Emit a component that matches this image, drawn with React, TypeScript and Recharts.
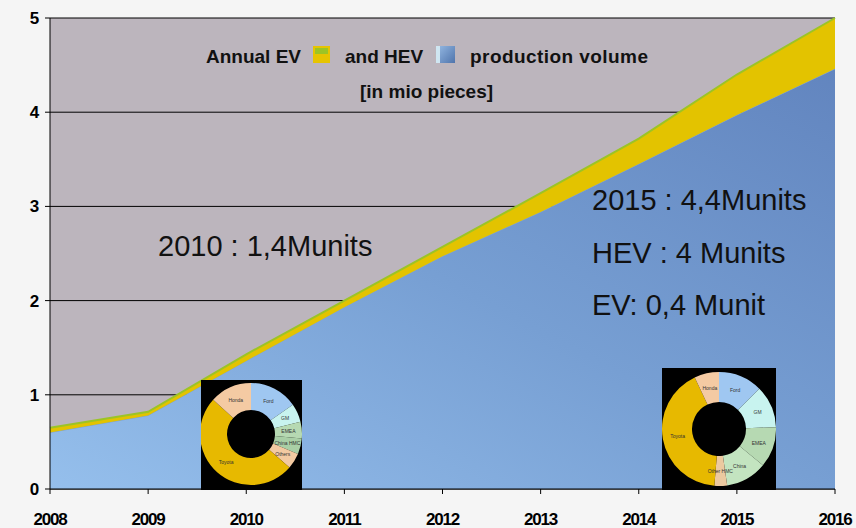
import React from "react";
import { Area, AreaChart, CartesianGrid, Cell, Pie, PieChart, XAxis, YAxis } from "recharts";

// production volume, mio pieces
const years = [2008, 2009, 2010, 2011, 2012, 2013, 2014, 2015, 2016];
const hevVolume = [0.6, 0.78, 1.36, 1.93, 2.47, 2.94, 3.45, 3.97, 4.46];
const evVolume = [0.05, 0.04, 0.07, 0.07, 0.1, 0.2, 0.27, 0.43, 0.54];
const yTicks = [0, 1, 2, 3, 4, 5];

// maker shares in the two donuts, clockwise from 12 o'clock
const makers2010 = ["Ford", "GM", "EMEA", "China HMC", "Others", "Toyota", "Honda"];
const share2010 = [15.3, 5.8, 5.3, 5, 5, 50.3, 13.3];
const makers2015 = ["Ford", "GM", "EMEA", "China", "Other HMC", "Toyota", "Honda"];
const share2015 = [12.5, 12, 11.5, 11.7, 3.6, 41.7, 7];

const makerColor: Record<string, string> = {
  Ford: "#9fc7f1",
  GM: "#c8f3ef",
  EMEA: "#b6d9b2",
  China: "#c3e4c0",
  "China HMC": "#a9cfa6",
  Others: "#f2c9a1",
  "Other HMC": "#ecc9a0",
  Toyota: "#e7b900",
  Honda: "#f4caa3",
};

const data = years.map((y, i) => ({ year: y, hev: hevVolume[i], ev: evVolume[i] }));

const axisFont = "'Liberation Sans', Arial, sans-serif";
const textFont = "'Liberation Sans', Arial, sans-serif";
const RAD = Math.PI / 180;

const donutLabel = (p: any) => {
  const r = (p.innerRadius + p.outerRadius) / 2;
  const x = p.cx + r * Math.cos(-p.midAngle * RAD);
  const y = p.cy + r * Math.sin(-p.midAngle * RAD);
  return (
    <text x={x} y={y} fontSize={5} fontFamily={textFont} textAnchor="middle" dominantBaseline="central" fill="#333">
      {p.payload.maker}
    </text>
  );
};

type DonutProps = {
  makers: string[];
  shares: number[];
  left: number;
  top: number;
  w: number;
  h: number;
  cx: number;
  cy: number;
  inner: number;
  outer: number;
};

const Donut = ({ makers, shares, left, top, w, h, cx, cy, inner, outer }: DonutProps) => {
  const rows = makers.map((m, i) => ({ maker: m, share: shares[i] }));
  return (
    <div style={{ position: "absolute", left, top, width: w, height: h, background: "#000" }}>
      <PieChart width={w} height={h} margin={{ top: 0, right: 0, bottom: 0, left: 0 }}>
        <Pie
          data={rows}
          dataKey="share"
          nameKey="maker"
          cx={cx}
          cy={cy}
          innerRadius={inner}
          outerRadius={outer}
          startAngle={90}
          endAngle={-270}
          stroke="none"
          label={donutLabel}
          labelLine={false}
          isAnimationActive={false}
        >
          {rows.map((r) => (
            <Cell key={r.maker} fill={makerColor[r.maker]} />
          ))}
        </Pie>
      </PieChart>
    </div>
  );
};

const tickStyle = { fill: "#000", fontSize: 17, fontWeight: 700, fontFamily: axisFont, letterSpacing: -1.2 };

export default function App() {
  return (
    <div style={{ position: "absolute", left: 0, top: 0, width: 856, height: 528, background: "#f5f5f5", overflow: "hidden" }}>
      <AreaChart width={856} height={528} data={data} margin={{ top: 18, right: 21, bottom: 0, left: 0 }}>
        <defs>
          <linearGradient id="hevFill" x1="0" y1="1" x2="1" y2="0">
            <stop offset="0%" stopColor="#95bfec" />
            <stop offset="50%" stopColor="#779fd3" />
            <stop offset="100%" stopColor="#6285bf" />
          </linearGradient>
        </defs>
        <CartesianGrid vertical={false} stroke="#000" fill="#bcb5bd" />
        <XAxis
          dataKey="year"
          type="number"
          domain={[2008, 2016]}
          ticks={years}
          height={39}
          axisLine={{ stroke: "#000" }}
          tickLine={{ stroke: "#000" }}
          tickSize={5}
          tickMargin={19}
          tick={tickStyle}
        />
        <YAxis
          type="number"
          domain={[0, 5]}
          ticks={yTicks}
          width={50}
          axisLine={{ stroke: "#000" }}
          tickLine={{ stroke: "#000" }}
          tickSize={5}
          tickMargin={7}
          tick={tickStyle}
        />
        <Area dataKey="hev" stackId="v" type="linear" fill="url(#hevFill)" fillOpacity={1} stroke="#7aa2d6" strokeWidth={1} isAnimationActive={false} />
        <Area dataKey="ev" stackId="v" type="linear" fill="#e3c300" fillOpacity={1} stroke="#9cc425" strokeWidth={2} isAnimationActive={false} />
      </AreaChart>

      <svg width={856} height={528} style={{ position: "absolute", left: 0, top: 0, pointerEvents: "none" }}>
        <defs>
          <linearGradient id="hevIcon" x1="0" y1="0" x2="1" y2="1">
            <stop offset="0%" stopColor="#8fb3de" />
            <stop offset="100%" stopColor="#4f74ac" />
          </linearGradient>
        </defs>
        <g fontFamily={textFont} fontWeight={700} fontSize={19} fill="#111">
          <text x={206} y={63}>Annual EV</text>
          <text x={345} y={63}>and HEV</text>
          <text x={470} y={63} textLength={178}>production volume</text>
          <text x={360} y={98}>[in mio pieces]</text>
        </g>
        <rect x={313} y={46} width={17} height={17} fill="#e6c400" />
        <rect x={315} y={48} width={13} height={6} fill="#9cc425" />
        <rect x={436} y={46} width={4} height={17} fill="#cfe6f2" />
        <rect x={440} y={46} width={15} height={17} fill="url(#hevIcon)" />
        <g fontFamily={textFont} fontSize={29} fill="#111">
          <text x={158} y={256}>2010 : 1,4Munits</text>
          <text x={592} y={210}>2015 : 4,4Munits</text>
          <text x={592} y={263}>HEV : 4 Munits</text>
          <text x={592} y={315}>EV: 0,4 Munit</text>
        </g>
      </svg>

      <Donut makers={makers2010} shares={share2010} left={201} top={380} w={101} h={110} cx={50} cy={54} inner={24} outer={51} />
      <Donut makers={makers2015} shares={share2015} left={662} top={368} w={114} h={122} cx={57} cy={61} inner={27} outer={57} />
    </div>
  );
}
